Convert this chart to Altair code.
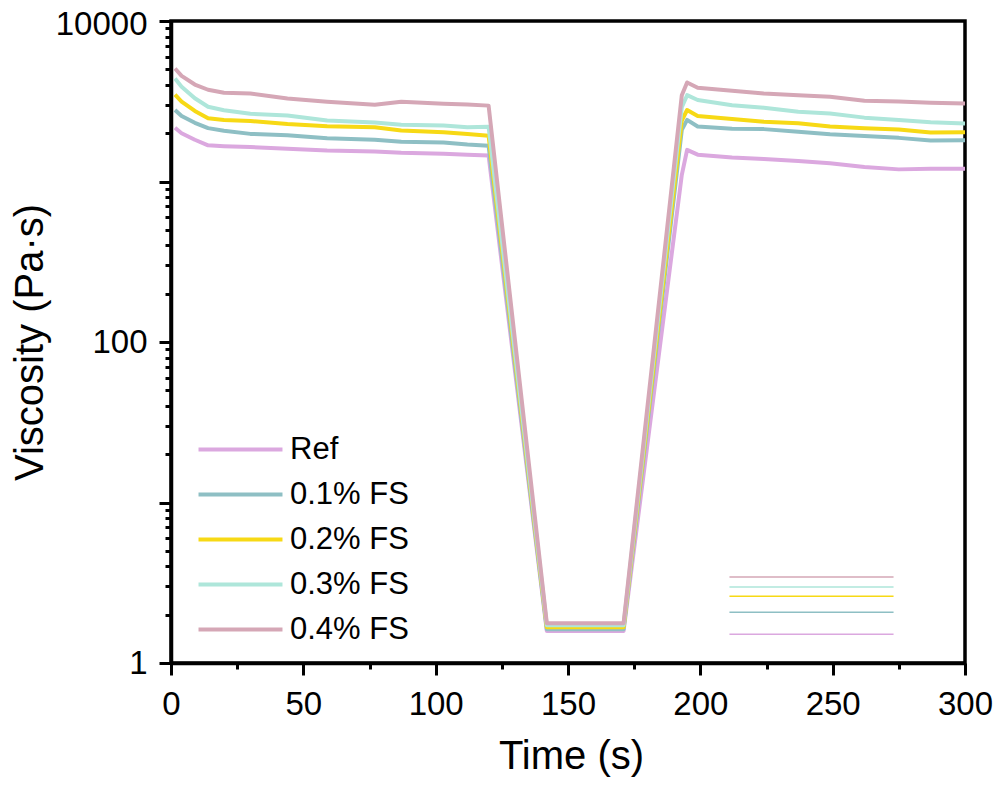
import altair as alt
import pandas as pd

# ---- data ----
series_names = ["Ref", "0.1% FS", "0.2% FS", "0.3% FS", "0.4% FS"]
series_colors = ["#DBA8DF", "#8EBFC4", "#F7D915", "#AEE6DA", "#D5A7B6"]

times = [1.5, 4, 9, 14, 20, 30, 44, 59, 77, 87, 103, 112, 120,
         142, 171, 193, 195, 199, 212, 224, 237, 249, 262, 275, 287, 300]

ref = [2160, 2000, 1820, 1680, 1660, 1640, 1600, 1560, 1540, 1510, 1490, 1470, 1450,
       1.58, 1.58, 1100, 1575, 1470, 1410, 1380, 1340, 1300, 1230, 1190, 1200, 1200]
fs01 = [2790, 2560, 2320, 2150, 2070, 1980, 1940, 1860, 1820, 1770, 1750, 1700, 1670,
        1.62, 1.62, 2100, 2420, 2200, 2130, 2120, 2040, 1970, 1920, 1870, 1800, 1810]
fs02 = [3480, 3150, 2750, 2480, 2420, 2380, 2280, 2210, 2180, 2080, 2030, 1980, 1930,
        1.67, 1.67, 2400, 2790, 2560, 2450, 2360, 2310, 2200, 2150, 2110, 2020, 2030]
fs03 = [4390, 3900, 3300, 2920, 2780, 2640, 2580, 2400, 2330, 2260, 2230, 2180, 2190,
        1.72, 1.72, 2900, 3450, 3220, 2990, 2880, 2720, 2650, 2500, 2420, 2340, 2300]
fs04 = [5060, 4550, 4020, 3730, 3570, 3530, 3290, 3140, 3010, 3140, 3050, 3020, 2970,
        1.77, 1.77, 3450, 4140, 3840, 3680, 3530, 3450, 3370, 3180, 3150, 3100, 3060]

# short thin segments near the lower right
seg_times = [211, 273]
seg_levels = [1.51, 2.07, 2.61, 2.98, 3.44]

x_ticks = [0, 25, 50, 75, 100, 125, 150, 175, 200, 225, 250, 275, 300]
y_ticks = [m * 10 ** k for k in range(4) for m in range(1, 10)] + [10000]
y_labels = [1, 100, 10000]

# ---- tables ----
all_vals = [ref, fs01, fs02, fs03, fs04]
rows = []
for i, (name, vals) in enumerate(zip(series_names, all_vals)):
    for t, v in zip(times, vals):
        rows.append({"series": name, "order": i, "time": t, "visc": v})
df = pd.DataFrame(rows)

seg_rows = []
for i, (name, lvl) in enumerate(zip(series_names, seg_levels)):
    for t in seg_times:
        seg_rows.append({"series": name, "order": i, "time": t, "visc": lvl})
df_seg = pd.DataFrame(seg_rows)

FONT = "Liberation Sans"

color_scale = alt.Scale(domain=series_names, range=series_colors)

legend = alt.Legend(
    title=None,
    orient="none",
    legendX=54,
    legendY=413,
    symbolType="M-5,0H5",
    symbolSize=282,
    symbolStrokeWidth=4,
    symbolFillColor="transparent",
    labelFont=FONT,
    labelFontSize=31,
    labelColor="black",
    labelOffset=34,
    rowPadding=13,
    padding=0,
)

x_enc = alt.X(
    "time:Q",
    scale=alt.Scale(domain=[0, 300], nice=False, zero=False),
    axis=alt.Axis(
        title="Time (s)",
        values=x_ticks,
        labelExpr="datum.value % 50 == 0 ? datum.label : ''",
        tickSize={"condition": {"test": "datum.value % 50 == 0", "value": 12}, "value": 6},
        tickWidth=3,
        tickColor="black",
        domainColor="black",
        domainWidth=3.5,
        labelFont=FONT,
        labelFontSize=33,
        labelColor="black",
        labelPadding=13,
        labelFlush=False,
        labelOverlap=False,
        grid=False,
        titleFont=FONT,
        titleFontSize=40,
        titleFontWeight="normal",
        titleColor="black",
        titleBaseline="alphabetic",
        titleX=400,
        titleY=105,
    ),
)

y_enc = alt.Y(
    "visc:Q",
    scale=alt.Scale(type="log", domain=[1, 10000], nice=False),
    axis=alt.Axis(
        title="Viscosity (Pa·s)",
        values=y_ticks,
        labelExpr="indexof([1, 100, 10000], datum.value) >= 0 ? format(datum.value, 'd') : ''",
        tickSize={"condition": {"test": "abs(log(datum.value)/LN10 - round(log(datum.value)/LN10)) < 0.000001", "value": 12}, "value": 6},
        labelOffset={"condition": {"test": "datum.value == 10000", "value": 3}, "value": 0},
        tickWidth=3,
        tickColor="black",
        domainColor="black",
        domainWidth=3.5,
        labelFont=FONT,
        labelFontSize=33,
        labelColor="black",
        labelPadding=12,
        labelFlush=False,
        labelOverlap=False,
        grid=False,
        titleFont=FONT,
        titleFontSize=40,
        titleFontWeight="normal",
        titleColor="black",
        titleAngle=-90,
        titleBaseline="alphabetic",
        titleAlign="center",
        titleX=-129,
        titleY=321,
    ),
)

lines = alt.Chart(df).mark_line(strokeWidth=4, strokeJoin="round").encode(
    x=x_enc,
    y=y_enc,
    color=alt.Color("series:N", scale=color_scale, legend=legend),
    order=alt.Order("order:O"),
    detail="series:N",
)

segs = alt.Chart(df_seg).mark_line(strokeWidth=1.5).encode(
    x=alt.X("time:Q"),
    y=alt.Y("visc:Q"),
    color=alt.Color("series:N", scale=color_scale, legend=legend),
    detail="series:N",
)

chart = alt.layer(segs, lines).properties(
    width=794,
    height=642,
    autosize=alt.AutoSizeParams(type="none"),
    padding={"left": 163, "top": 13, "right": 29, "bottom": 114},
    background="white",
).configure_view(
    stroke="black",
    strokeWidth=3.5,
)

chart.save("out.html", embed_options={"renderer": "svg", "actions": False})
